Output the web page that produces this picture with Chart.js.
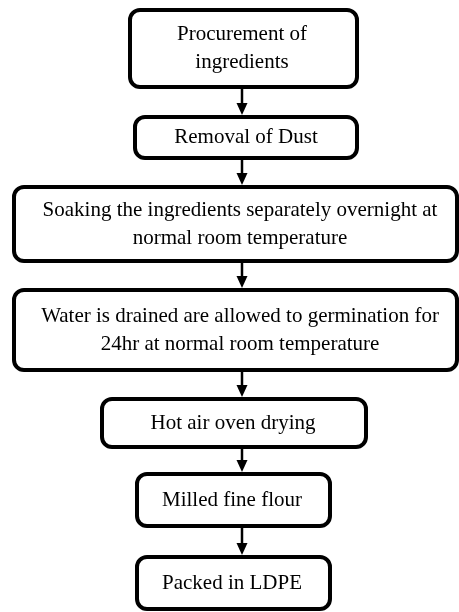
<!DOCTYPE html>
<html>
<head>
<meta charset="utf-8">
<script src="https://cdn.jsdelivr.net/npm/chart.js@4.4.1/dist/chart.umd.min.js"></script>
<style>
  html, body { margin: 0; padding: 0; background: #fff; }
  canvas { display: block; }
</style>
</head>
<body>
<canvas id="flow" width="459" height="612"></canvas>
<script>
// process steps, top to bottom
const stepLines = [
  ['Procurement of', 'ingredients'],
  ['Removal of Dust'],
  ['Soaking the ingredients separately overnight at', 'normal room temperature'],
  ['Water is drained are allowed to germination for', '24hr at normal room temperature'],
  ['Hot air oven drying'],
  ['Milled fine flour'],
  ['Packed in LDPE']
];

// box layout in page units (left, right, top, bottom)
const boxLeft   = [130, 135, 14, 14, 102, 137, 137];
const boxRight  = [357, 357, 457, 457, 366, 330, 330];
const boxTop    = [10, 117, 187, 290, 399, 474, 557];
const boxBottom = [87, 158, 261, 370, 447, 526, 609];
const textX     = [242, 246, 240, 240, 233, 232, 232];
const arrowX = 242;

const LINE_H = 28;

const flowPlugin = {
  id: 'flowBoxes',
  afterDatasetsDraw(chart) {
    const { ctx, scales: { x, y } } = chart;
    ctx.save();
    // arrows between boxes
    ctx.strokeStyle = '#000';
    ctx.fillStyle = '#000';
    for (let i = 0; i < stepLines.length - 1; i++) {
      const ax = x.getPixelForValue(arrowX);
      const y0 = y.getPixelForValue(boxBottom[i]) + 2;
      const y1 = y.getPixelForValue(boxTop[i + 1]) - 2;
      ctx.lineWidth = 2.5;
      ctx.beginPath();
      ctx.moveTo(ax, y0);
      ctx.lineTo(ax, y1 - 9);
      ctx.stroke();
      ctx.beginPath();
      ctx.moveTo(ax - 5.5, y1 - 12);
      ctx.lineTo(ax + 5.5, y1 - 12);
      ctx.lineTo(ax, y1);
      ctx.closePath();
      ctx.fill();
    }
    // boxes
    ctx.lineWidth = 4;
    stepLines.forEach((lines, i) => {
      const l = x.getPixelForValue(boxLeft[i]);
      const r = x.getPixelForValue(boxRight[i]);
      const t = y.getPixelForValue(boxTop[i]);
      const b = y.getPixelForValue(boxBottom[i]);
      ctx.beginPath();
      ctx.roundRect(l, t, r - l, b - t, 10);
      ctx.fillStyle = '#fff';
      ctx.fill();
      ctx.stroke();
      // text
      ctx.fillStyle = '#000';
      ctx.font = '21px "Liberation Serif", "Times New Roman", serif';
      ctx.textAlign = 'center';
      ctx.textBaseline = 'middle';
      const cy = (t + b) / 2;
      const tx = x.getPixelForValue(textX[i]);
      lines.forEach((line, j) => {
        const ly = cy + (j - (lines.length - 1) / 2) * LINE_H;
        ctx.fillText(line, tx, ly);
      });
    });
    ctx.restore();
  }
};

new Chart(document.getElementById('flow'), {
  type: 'scatter',
  data: {
    datasets: [{
      label: 'steps',
      data: stepLines.map((s, i) => ({ x: textX[i], y: (boxTop[i] + boxBottom[i]) / 2 })),
      pointRadius: 0,
      pointHoverRadius: 0
    }]
  },
  options: {
    responsive: false,
    animation: false,
    devicePixelRatio: 1,
    layout: { padding: 0 },
    plugins: { legend: { display: false }, tooltip: { enabled: false } },
    scales: {
      x: { type: 'linear', min: 0, max: 459, display: false },
      y: { type: 'linear', min: 0, max: 612, reverse: true, display: false }
    }
  },
  plugins: [flowPlugin]
});
</script>
</body>
</html>
